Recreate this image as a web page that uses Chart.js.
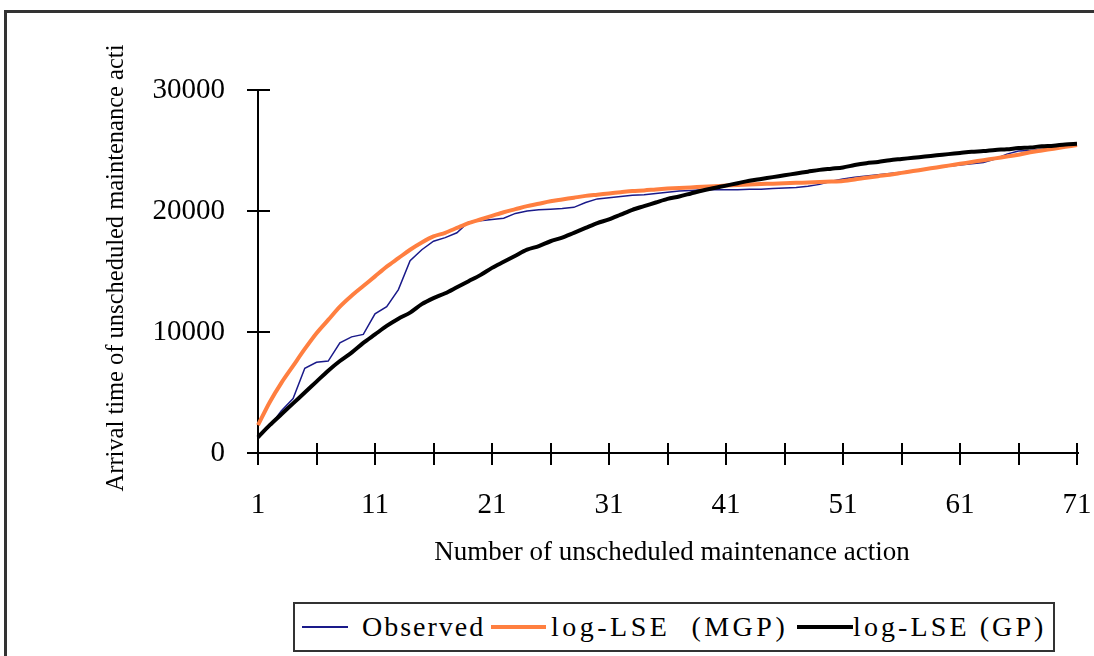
<!DOCTYPE html>
<html>
<head>
    <title>Unscheduled maintenance arrival times</title>
    <script src="https://cdn.jsdelivr.net/npm/chart.js"></script>
    <style>
        body { margin: 0; background: #fff; font-family: "Liberation Serif", "DejaVu Serif", serif; }
        .wrap { position: absolute; left: 0; top: 0; width: 1094px; height: 656px; overflow: hidden; }
        .frame { position: absolute; left: 4px; top: 10px; width: 1200px; height: 800px; border-left: 3px solid #333; border-top: 3px solid #333; }
        .chart-box { position: absolute; left: 0; top: 0; width: 1094px; height: 656px; }
        .legend { position: absolute; left: 293px; top: 602px; width: 762px; height: 50px; box-sizing: border-box;
                  border: 2px solid #333; background: #fff; font-size: 28px; color: #000; }
        .legend .item { position: absolute; top: 0; height: 46px; line-height: 46px; white-space: pre; }
        .legend .swatch { position: absolute; top: 23px; }
    </style>
</head>
<body>
<div class="wrap">
    <div class="frame"></div>
    <div class="chart-box"><canvas id="chart"></canvas></div>
    <div class="legend" id="legend"></div>
</div>

<script>
// data
const categories = ['1','2','3','4','5','6','7','8','9','10','11','12','13','14','15','16','17','18','19','20',
    '21','22','23','24','25','26','27','28','29','30','31','32','33','34','35','36','37','38','39','40',
    '41','42','43','44','45','46','47','48','49','50','51','52','53','54','55','56','57','58','59','60',
    '61','62','63','64','65','66','67','68','69','70','71'];

const observed = [1300, 2200, 3500, 4500, 7000, 7500, 7600, 9100, 9600, 9800,
    11500, 12100, 13500, 15900, 16800, 17500, 17800, 18200, 19100, 19200,
    19300, 19400, 19800, 20000, 20100, 20150, 20200, 20300, 20700, 21000,
    21100, 21200, 21300, 21350, 21450, 21550, 21650, 21700, 21750, 21750,
    21750, 21750, 21800, 21800, 21850, 21900, 21950, 22050, 22200, 22450,
    22650, 22800, 22900, 23000, 23100, 23200, 23350, 23500, 23600, 23700,
    23800, 23900, 24000, 24300, 24700, 24950, 25000, 25100, 25200, 25350, 25500];

const mgp = [2300, 4200, 5800, 7200, 8600, 9900, 11000, 12100, 13000, 13800,
    14600, 15400, 16100, 16800, 17400, 17900, 18200, 18600, 19000, 19300,
    19600, 19900, 20150, 20400, 20600, 20800, 20950, 21100, 21250, 21350,
    21450, 21550, 21650, 21700, 21780, 21850, 21900, 21950, 22000, 22050,
    22100, 22150, 22200, 22230, 22260, 22300, 22330, 22360, 22400, 22430,
    22480, 22600, 22750, 22880, 23000, 23150, 23300, 23450, 23600, 23750,
    23900, 24050, 24200, 24350, 24500, 24650, 24850, 25000, 25150, 25300, 25450];

const gp = [1300, 2300, 3200, 4100, 5000, 5900, 6800, 7600, 8300, 9100,
    9800, 10500, 11100, 11600, 12300, 12800, 13200, 13700, 14200, 14700,
    15300, 15800, 16300, 16800, 17100, 17500, 17800, 18200, 18600, 19000,
    19300, 19700, 20100, 20400, 20700, 21000, 21200, 21450, 21700, 21900,
    22100, 22300, 22500, 22650, 22800, 22950, 23100, 23250, 23400, 23500,
    23600, 23800, 23950, 24050, 24200, 24300, 24400, 24500, 24600, 24700,
    24800, 24900, 24950, 25050, 25100, 25200, 25250, 25350, 25400, 25500, 25550];

const xTickLabels = ['1', '11', '21', '31', '41', '51', '61', '71'];
const yTicks = [0, 10000, 20000, 30000];

const seriesNames = ['Observed', 'log-LSE  (MGP)', 'log-LSE (GP)'];
const seriesColors = ['#1a1a8a', '#ff7f40', '#000000'];
const seriesWidths = [1.5, 4, 4];

const xTitle = 'Number of unscheduled maintenance action';
const yTitle = 'Arrival time of unscheduled maintenance acti';

const FONT = '"Liberation Serif", "DejaVu Serif", serif';

// axis lines, cross-through tick marks and titles
const axisPlugin = {
    id: 'axisPlugin',
    beforeDatasetsDraw(chart) {
        const ctx = chart.ctx;
        const xs = chart.scales.x, ys = chart.scales.y;
        const x0 = xs.left, y0 = ys.bottom;
        ctx.save();
        ctx.strokeStyle = '#000';
        ctx.lineWidth = 2;
        ctx.beginPath();
        ctx.moveTo(x0, ys.top);
        ctx.lineTo(x0, y0);
        ctx.moveTo(x0 - 1, y0);
        ctx.lineTo(xs.right + 2, y0);
        yTicks.forEach(v => {
            const py = Math.round(ys.getPixelForValue(v));
            ctx.moveTo(x0 - 11, py);
            ctx.lineTo(x0 + 12, py);
        });
        for (let i = 0; i < categories.length; i += 5) {
            const px = Math.round(xs.getPixelForValue(i));
            ctx.moveTo(px, y0 - 10);
            ctx.lineTo(px, y0 + 12);
        }
        ctx.stroke();
        ctx.restore();
    },
    afterDraw(chart) {
        const ctx = chart.ctx;
        ctx.save();
        ctx.fillStyle = '#000';
        ctx.textAlign = 'center';
        ctx.textBaseline = 'middle';
        ctx.font = '27px ' + FONT;
        ctx.fillText(xTitle, 672, 553);
        ctx.translate(117, 268);
        ctx.rotate(-Math.PI / 2);
        ctx.font = '24.5px ' + FONT;
        ctx.fillText(yTitle, 0, 0);
        ctx.restore();
    }
};

document.addEventListener('DOMContentLoaded', function () {
    const ctx = document.getElementById('chart').getContext('2d');

    const datasets = [observed, mgp, gp].map((vals, k) => ({
        label: seriesNames[k],
        data: vals,
        borderColor: seriesColors[k],
        backgroundColor: seriesColors[k],
        borderWidth: seriesWidths[k],
        pointRadius: 0,
        tension: k === 0 ? 0 : 0.3,
        fill: false,
        order: 3 - k
    }));

    new Chart(ctx, {
        type: 'line',
        data: { labels: categories, datasets: datasets },
        options: {
            responsive: true,
            maintainAspectRatio: false,
            animation: false,
            layout: { autoPadding: false, padding: { left: 0, right: 17, top: 90, bottom: 0 } },
            scales: {
                x: {
                    offset: false,
                    grid: { display: false, drawTicks: false },
                    border: { display: false },
                    ticks: {
                        autoSkip: false,
                        maxRotation: 0,
                        padding: 35,
                        color: '#000',
                        font: { family: FONT, size: 29 },
                        callback: function (val, index) {
                            const lab = categories[index];
                            return xTickLabels.includes(lab) ? lab : '';
                        }
                    },
                    afterFit: function (scale) {
                        scale.height = 203;
                        scale.paddingLeft = 0;
                        scale.paddingRight = 0;
                    }
                },
                y: {
                    min: 0,
                    max: 30000,
                    grid: { display: false, drawTicks: false },
                    border: { display: false },
                    afterBuildTicks: function (scale) {
                        scale.ticks = yTicks.map(v => ({ value: v }));
                    },
                    ticks: {
                        padding: 33,
                        color: '#000',
                        font: { family: FONT, size: 29 },
                        callback: function (v) { return String(v); }
                    },
                    afterFit: function (scale) { scale.width = 258; }
                }
            },
            plugins: {
                legend: { display: false },
                tooltip: { enabled: false }
            }
        },
        plugins: [axisPlugin]
    });

    // legend box like the original
    const legend = document.getElementById('legend');
    const swatchLeft = [7, 196, 502];
    const swatchWidth = [46, 55, 56];
    const textLeft = [67, 256, 558];
    const spacing = [2, 3.5, 3.1];
    seriesNames.forEach((name, k) => {
        const sw = document.createElement('div');
        sw.className = 'swatch';
        sw.style.left = swatchLeft[k] + 'px';
        sw.style.width = swatchWidth[k] + 'px';
        sw.style.height = (k === 0 ? 2 : 4) + 'px';
        sw.style.marginTop = (k === 0 ? -1 : -2) + 'px';
        sw.style.background = seriesColors[k];
        legend.appendChild(sw);
        const tx = document.createElement('div');
        tx.className = 'item';
        tx.style.left = textLeft[k] + 'px';
        tx.style.letterSpacing = spacing[k] + 'px';
        tx.textContent = name;
        legend.appendChild(tx);
    });
});
</script>
</body>
</html>
